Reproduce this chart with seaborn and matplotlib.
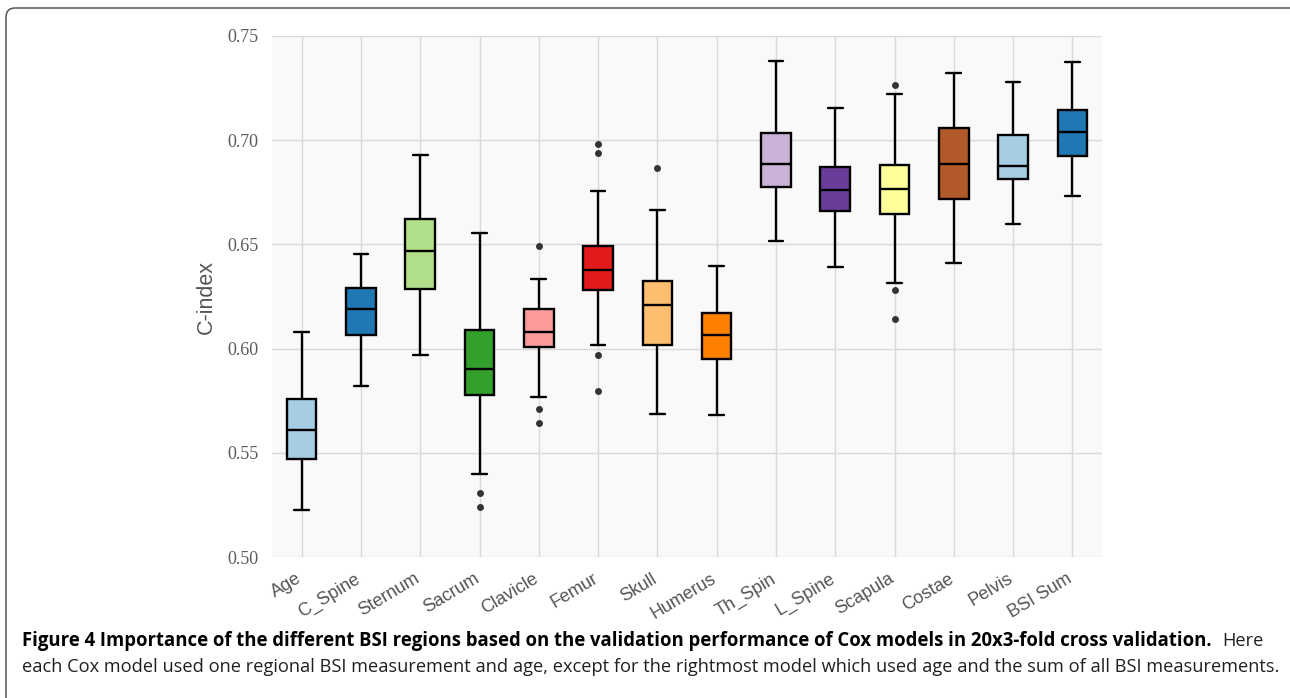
import numpy as np
import pandas as pd
import matplotlib
matplotlib.use("Agg")
import matplotlib.pyplot as plt
from matplotlib.patches import FancyBboxPatch
from matplotlib.transforms import IdentityTransform, ScaledTranslation
from matplotlib.ticker import FormatStrFormatter
import seaborn as sns

# --- data (five-number summary per region + outliers) ---
categories = ["Age", "C_Spine", "Sternum", "Sacrum", "Clavicle", "Femur", "Skull",
              "Humerus", "Th_Spin", "L_Spine", "Scapula", "Costae", "Pelvis", "BSI Sum"]
whisker_low = [0.5225, 0.5820, 0.5970, 0.5399, 0.5767, 0.6017, 0.5685,
               0.5683, 0.6515, 0.6392, 0.6314, 0.6413, 0.6600, 0.6734]
q1 = [0.5470, 0.6065, 0.6285, 0.5776, 0.6007, 0.6283, 0.6018,
      0.5951, 0.6775, 0.6662, 0.6646, 0.6719, 0.6816, 0.6924]
median = [0.5610, 0.6188, 0.6469, 0.5903, 0.6082, 0.6376, 0.6207,
          0.6063, 0.6887, 0.6759, 0.6764, 0.6885, 0.6874, 0.7040]
q3 = [0.5760, 0.6290, 0.6623, 0.6088, 0.6188, 0.6490, 0.6325,
      0.6172, 0.7035, 0.6873, 0.6879, 0.7058, 0.7026, 0.7147]
whisker_high = [0.6080, 0.6456, 0.6927, 0.6556, 0.6333, 0.6754, 0.6665,
                0.6397, 0.7380, 0.7155, 0.7221, 0.7323, 0.7278, 0.7375]
outliers = [[], [], [], [0.5305, 0.5238], [0.6490, 0.5712, 0.5643],
            [0.6984, 0.6938, 0.5970, 0.5796], [0.6868], [], [], [],
            [0.7265, 0.6282, 0.6141], [], [], []]
yticks = [0.50, 0.55, 0.60, 0.65, 0.70, 0.75]

caption_bold = ("Figure 4 Importance of the different BSI regions based on the validation "
                "performance of Cox models in 20x3-fold cross validation.")
caption_rest1 = "Here"
caption_line2 = ("each Cox model used one regional BSI measurement and age, except for the "
                 "rightmost model which used age and the sum of all BSI measurements.")

# five points per box -> quartiles land exactly on q1/median/q3, whiskers on min/max
box_df = pd.DataFrame(
    [(c, v) for c, lo, a, m, b, hi in zip(categories, whisker_low, q1, median, q3, whisker_high)
     for v in (lo, a, m, b, hi)],
    columns=["region", "cindex"])
out_df = pd.DataFrame([(c, v) for c, vals in zip(categories, outliers) for v in vals],
                      columns=["region", "cindex"])

pal = sns.color_palette("Paired")
pal = pal + pal[:2]

sns.set_theme(style="whitegrid")
plt.rcParams["font.family"] = ["Liberation Sans", "DejaVu Sans"]

fig = plt.figure(figsize=(12.9, 6.98), dpi=100)
ax = fig.add_axes([272 / 1290, 1 - 557 / 698, 830 / 1290, 521 / 698])
ax.set_facecolor("#f9f9f9")

sns.boxplot(data=box_df, x="region", y="cindex", hue="region", order=categories,
            hue_order=categories, palette=pal, saturation=1, width=0.5, whis=(0, 100),
            linecolor="black", linewidth=1.7, legend=False, ax=ax)
sns.stripplot(data=out_df, x="region", y="cindex", order=categories, jitter=False,
              color="#333333", size=5, ax=ax)

ax.set_xlim(-0.5, len(categories) - 0.5)
ax.set_ylim(0.5, 0.75)
ax.set_yticks(yticks)
ax.yaxis.set_major_formatter(FormatStrFormatter("%.2f"))
ax.grid(True, axis="both", color="#d9d9d9", linewidth=1.0)
ax.set_axisbelow(True)
for s in ax.spines.values():
    s.set_visible(False)

ax.tick_params(axis="y", length=0, pad=9.5, labelsize=13, labelcolor="#5a5a5a")
for lab in ax.get_yticklabels():
    lab.set_family(["Liberation Serif", "DejaVu Serif"])
ax.tick_params(axis="x", length=0, pad=6, labelsize=13, labelcolor="#555555")
shift = ScaledTranslation(-0.06, -0.05, fig.dpi_scale_trans)
for lab in ax.get_xticklabels():
    lab.set_rotation(31)
    lab.set_ha("right")
    lab.set_rotation_mode("anchor")
    lab.set_transform(lab.get_transform() + shift)
ax.set_xlabel("")
ax.set_ylabel("C-index", fontsize=15.5, color="#555555", labelpad=8)

# rounded frame around the figure panel
frame = FancyBboxPatch((6, -40), 1310, 730, boxstyle="round,pad=0,rounding_size=9",
                       transform=IdentityTransform(), fill=False, edgecolor="#555555",
                       linewidth=1.1)
fig.patches.append(frame)

# caption, sized to the reference line widths
cap_font = ["Open Sans", "DejaVu Sans"]
renderer = fig.canvas.get_renderer()


def fit_width(txt, target_px):
    w = txt.get_window_extent(renderer).width
    txt.set_fontsize(txt.get_fontsize() * target_px / w)


x0 = 22 / 1290
t2 = fig.text(x0, 1 - 672 / 698, caption_line2, family=cap_font, fontsize=11,
              color="#231f20", va="baseline")
fit_width(t2, 1261)
t1 = fig.text(x0, 1 - 646 / 698, caption_bold, family=cap_font, fontsize=11,
              weight="bold", color="black", va="baseline")
fit_width(t1, 1190)
t1b = fig.text(1222 / 1290, 1 - 646 / 698, caption_rest1, family=cap_font,
               fontsize=t2.get_fontsize(), color="#231f20", va="baseline")

fig.savefig("out.png", dpi=100)
